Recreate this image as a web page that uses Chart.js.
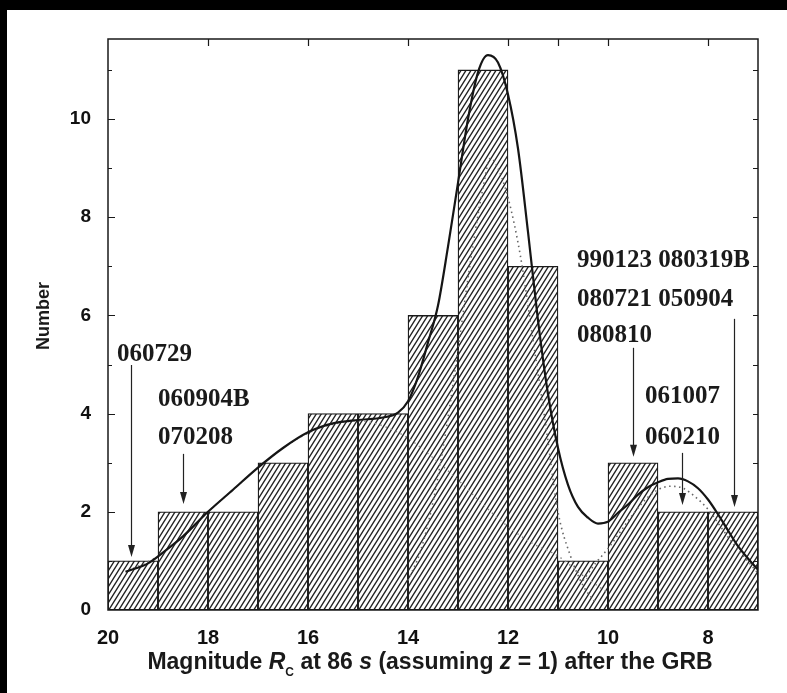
<!DOCTYPE html>
<html><head><meta charset="utf-8">
<script src="https://cdn.jsdelivr.net/npm/chart.js@4/dist/chart.umd.min.js"></script>
<style>html,body{margin:0;padding:0;background:#000;}canvas{display:block;}</style>
</head><body>
<canvas id="c" width="787" height="693"></canvas>
<script>
// ---- data ----
const binCenters = [19.5, 18.5, 17.5, 16.5, 15.5, 14.5, 13.5, 12.5, 11.5, 10.5, 9.5, 8.5, 7.5];
const counts     = [1, 2, 2, 3, 4, 4, 6, 11, 7, 1, 3, 2, 2];

const fitMag   = [19.65, 19.2, 18.8, 18.5, 18.0, 17.5, 17.0, 16.5, 16.0, 15.5, 15.0, 14.5, 14.2, 14.0, 13.8, 13.6, 13.4, 13.2, 13.0, 12.8, 12.6, 12.4, 12.2, 12.0, 11.8, 11.6, 11.4, 11.2, 11.0, 10.8, 10.6, 10.4, 10.2, 10.0, 9.8, 9.6, 9.4, 9.2, 9.0, 8.8, 8.6, 8.4, 8.2, 8.0, 7.8, 7.6, 7.4, 7.2, 7.0];
const fitTotal = [0.78, 0.95, 1.25, 1.5, 2.0, 2.45, 2.9, 3.3, 3.62, 3.8, 3.87, 3.92, 4.02, 4.25, 4.75, 5.45, 6.2, 7.4, 8.7, 10.0, 10.95, 11.3, 11.15, 10.5, 9.4, 7.7, 5.9, 4.4, 3.3, 2.55, 2.1, 1.88, 1.76, 1.8, 1.98, 2.15, 2.35, 2.5, 2.6, 2.67, 2.68, 2.62, 2.48, 2.25, 1.95, 1.62, 1.3, 1.05, 0.82];

const compAMag = [19.6, 19.0, 18.5, 18.0, 17.5, 17.0, 16.5, 16.0, 15.5, 15.0, 14.5, 14.0, 13.5, 13.0, 12.5, 12.0, 11.5, 11.0, 10.5, 10.0];
const compA    = [0.8, 1.1, 1.5, 2.0, 2.45, 2.9, 3.3, 3.6, 3.78, 3.85, 3.75, 3.5, 3.1, 2.65, 2.15, 1.7, 1.35, 1.1, 0.7, 0.35];

const compBMag = [14.0, 13.75, 13.5, 13.25, 13.0, 12.75, 12.5, 12.35, 12.25, 12.0, 11.75, 11.5, 11.25, 11.0, 10.75, 10.5, 10.25];
const compB    = [0.6, 1.2, 2.2, 3.6, 5.3, 7.1, 8.6, 9.2, 9.1, 8.4, 7.2, 5.5, 3.8, 2.0, 1.1, 0.5, 0.15];

const compCMag = [10.5, 10.25, 10.0, 9.75, 9.5, 9.25, 9.0, 8.75, 8.5, 8.25, 8.0, 7.75, 7.5, 7.25, 7.0];
const compC    = [0.6, 0.95, 1.25, 1.6, 1.95, 2.25, 2.45, 2.52, 2.48, 2.3, 2.05, 1.7, 1.35, 1.05, 0.75];

const xTickLabels = [20, 18, 16, 14, 12, 10, 8];
const yTickLabels = [0, 2, 4, 6, 8, 10];

// GRB labels (text, left edge in magnitude, vertical centre in counts)
const grbText = ["060729", "060904B", "070208", "990123 080319B", "080721 050904", "080810", "061007", "060210"];
const grbMag  = [19.82, 19.0, 19.0, 10.62, 10.62, 10.62, 9.26, 9.26];
const grbNum  = [5.21, 4.28, 3.52, 7.11, 6.33, 5.58, 4.34, 3.52];

// arrows: magnitude, start count, end count
const arrowMag   = [19.54, 18.5, 9.5, 8.52, 7.48];
const arrowStart = [4.99, 3.18, 5.34, 3.2, 5.93];
const arrowEnd   = [1.08, 2.16, 3.12, 2.14, 2.1];

// ---- hatch pattern ----
function hatch() {
  const w = 5, h = 8;
  const c = document.createElement('canvas');
  c.width = w; c.height = h;
  const g = c.getContext('2d');
  g.fillStyle = '#fff'; g.fillRect(0, 0, w, h);
  g.strokeStyle = '#222'; g.lineWidth = 1.4;
  g.beginPath();
  g.moveTo(-w, 2 * h); g.lineTo(2 * w, -h);
  g.moveTo(-2 * w, 2 * h); g.lineTo(w, -h);
  g.moveTo(0, 2 * h); g.lineTo(3 * w, -h);
  g.stroke();
  return g.createPattern(c, 'repeat');
}

const pts = (xs, ys) => xs.map((x, i) => ({x: x, y: ys[i]}));

const SANS = "'Liberation Sans', Arial, sans-serif";
const SERIF = "'Liberation Serif', 'Times New Roman', serif";

const decor = {
  id: 'decor',
  beforeDraw(chart) {
    const ctx = chart.ctx;
    ctx.save();
    ctx.fillStyle = '#000'; ctx.fillRect(0, 0, chart.width, chart.height);
    ctx.fillStyle = '#fff'; ctx.fillRect(7, 10, chart.width - 7, chart.height - 10);
    ctx.restore();
  },
  afterDatasetsDraw(chart) {
    const ctx = chart.ctx, a = chart.chartArea;
    const xs = chart.scales.x, ys = chart.scales.y;
    ctx.save();
    // frame
    ctx.strokeStyle = '#1a1a1a'; ctx.lineWidth = 1.5;
    ctx.strokeRect(a.left, a.top, a.right - a.left, a.bottom - a.top);
    ctx.lineWidth = 1.2;
    ctx.beginPath();
    for (let v = 1; v <= 11; v++) {
      const y = Math.round(ys.getPixelForValue(v)) + 0.5;
      const L = (v % 2 === 0) ? 7 : 4;
      ctx.moveTo(a.left, y); ctx.lineTo(a.left + L, y);
      ctx.moveTo(a.right, y); ctx.lineTo(a.right - 5, y);
    }
    [18, 16, 14, 12, 11, 10, 8].forEach(m => {
      const x = Math.round(xs.getPixelForValue(m)) + 0.5;
      ctx.moveTo(x, a.top); ctx.lineTo(x, a.top + 7);
    });
    ctx.stroke();

    // arrows
    ctx.strokeStyle = '#222'; ctx.fillStyle = '#222'; ctx.lineWidth = 1.2;
    arrowMag.forEach((m, i) => {
      const x = Math.round(xs.getPixelForValue(m)) + 0.5;
      const y0 = ys.getPixelForValue(arrowStart[i]);
      const y1 = ys.getPixelForValue(arrowEnd[i]);
      ctx.beginPath(); ctx.moveTo(x, y0); ctx.lineTo(x, y1 - 8); ctx.stroke();
      ctx.beginPath(); ctx.moveTo(x, y1); ctx.lineTo(x - 3.5, y1 - 12); ctx.lineTo(x + 3.5, y1 - 12); ctx.closePath(); ctx.fill();
    });

    // GRB labels
    ctx.fillStyle = '#1a1a1a';
    ctx.font = 'bold 25px ' + SERIF;
    ctx.textAlign = 'left'; ctx.textBaseline = 'middle';
    grbText.forEach((t, i) => {
      ctx.fillText(t, xs.getPixelForValue(grbMag[i]), ys.getPixelForValue(grbNum[i]));
    });

    // x title with italics and subscript
    const segs = [
      {t: 'Magnitude ', f: 'bold 23px ' + SANS, dy: 0},
      {t: 'R', f: 'italic bold 23px ' + SANS, dy: 0},
      {t: 'C', f: 'bold 12px ' + SANS, dy: 7},
      {t: ' at 86 ', f: 'bold 23px ' + SANS, dy: 0},
      {t: 's', f: 'italic bold 23px ' + SANS, dy: 0},
      {t: ' (assuming ', f: 'bold 23px ' + SANS, dy: 0},
      {t: 'z', f: 'italic bold 23px ' + SANS, dy: 0},
      {t: ' = 1) after the GRB', f: 'bold 23px ' + SANS, dy: 0}
    ];
    let tw = 0;
    segs.forEach(s => { ctx.font = s.f; s.w = ctx.measureText(s.t).width; tw += s.w; });
    let x = 430 - tw / 2;
    ctx.textBaseline = 'alphabetic';
    segs.forEach(s => { ctx.font = s.f; ctx.fillText(s.t, x, 669 + s.dy); x += s.w; });

    // y title
    ctx.save();
    ctx.translate(44, 316);
    ctx.rotate(-Math.PI / 2);
    ctx.font = 'bold 18px ' + SANS;
    ctx.textAlign = 'center'; ctx.textBaseline = 'middle';
    ctx.fillText('Number', 0, 0);
    ctx.restore();
    ctx.restore();
  }
};

new Chart(document.getElementById('c'), {
  data: {
    datasets: [
      {type: 'line', data: pts(fitMag, fitTotal), borderColor: '#151515', borderWidth: 2.2, pointRadius: 0, cubicInterpolationMode: 'monotone', order: 1},
      {type: 'line', data: pts(compAMag, compA), borderColor: '#888', borderWidth: 1.4, borderDash: [1.5, 4], pointRadius: 0, cubicInterpolationMode: 'monotone', order: 2},
      {type: 'line', data: pts(compBMag, compB), borderColor: '#666', borderWidth: 1.6, borderDash: [1.5, 3.5], pointRadius: 0, cubicInterpolationMode: 'monotone', order: 2},
      {type: 'line', data: pts(compCMag, compC), borderColor: '#666', borderWidth: 1.6, borderDash: [1.5, 3.5], pointRadius: 0, cubicInterpolationMode: 'monotone', order: 2},
      {type: 'bar', data: pts(binCenters, counts), backgroundColor: hatch(), borderColor: '#1a1a1a', borderWidth: 1.3, borderSkipped: false, barPercentage: 1, categoryPercentage: 1, order: 3}
    ]
  },
  options: {
    responsive: false, animation: false, devicePixelRatio: 1,
    layout: {padding: {left: 0, right: 29, top: 39, bottom: 0}},
    plugins: {legend: {display: false}, tooltip: {enabled: false}},
    scales: {
      x: {
        type: 'linear', min: 7, max: 20, reverse: true, offset: false,
        grid: {display: false}, border: {display: false},
        afterBuildTicks: s => { s.ticks = xTickLabels.map(v => ({value: v})); },
        afterFit: s => { s.height = 83; },
        ticks: {color: '#111', font: {family: SANS, size: 20, weight: 'bold'}, padding: 8, maxRotation: 0, autoSkip: false}
      },
      y: {
        type: 'linear', min: 0, max: 11.63,
        grid: {display: false}, border: {display: false},
        afterBuildTicks: s => { s.ticks = yTickLabels.map(v => ({value: v})); },
        afterFit: s => { s.width = 108; },
        ticks: {color: '#111', font: {family: SANS, size: 19, weight: 'bold'}, padding: 9}
      }
    }
  },
  plugins: [decor]
});
</script>
</body></html>
